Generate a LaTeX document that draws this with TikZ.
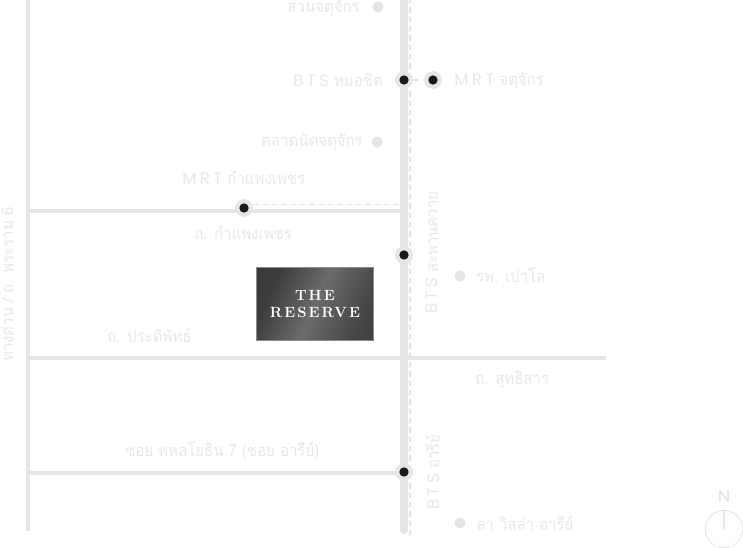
\documentclass[tikz,border=0pt]{standalone}
\usepackage{fontspec}
\setmainfont{Liberation Sans}
\newfontfamily\thaifont[Script=Thai,FakeStretch=0.9]{Loma}
\newfontfamily\latinsp[LetterSpace=20]{Poppins}
\newfontfamily\logofont[LetterSpace=14]{Latin Modern Roman}
\newfontfamily\northfont[FakeBold=2,FakeStretch=1.15]{Poppins}
\definecolor{roadgrey}{HTML}{E6E6E6}
\definecolor{labelgrey}{HTML}{E8E8E8}
\definecolor{stationblack}{HTML}{1A1A1A}
\pgfdeclarehorizontalshading{logoshade}{100bp}{color(0bp)=(black!80); color(28bp)=(black!76); color(50bp)=(black!58); color(72bp)=(black!72); color(100bp)=(black!80)}
\tikzset{
  mainroad/.style={draw=roadgrey,line width=6pt,line cap=round},
  road/.style={draw=roadgrey,line width=2.4pt},
  rail/.style={draw=roadgrey,line width=0.9pt,dash pattern=on 4pt off 3pt},
  halo/.style={circle,fill=roadgrey,draw=none,minimum size=13.4pt,inner sep=0pt},
  hub/.style={circle,fill=stationblack,draw=none,minimum size=7pt,inner sep=0pt},
  poi/.style={circle,fill=roadgrey,draw=none,minimum size=8.4pt,inner sep=0pt},
  lab/.style={text=labelgrey,font=\thaifont\fontsize{12.5}{14}\selectfont,inner sep=0pt},
  compassring/.style={draw=roadgrey,line width=0.7pt},
}
\begin{document}
\begin{tikzpicture}[x=0.75pt,y=-0.75pt]
\useasboundingbox (0,0) rectangle (743,548);
\coordinate (mt) at (404,-4);
\coordinate (mb) at (404,530);
\coordinate (rt) at (410,-2);
\coordinate (rb) at (410,537);
\coordinate (lt) at (28,-2);
\coordinate (lb) at (28,531);
\coordinate (k1) at (28,211);
\coordinate (k2) at (402,211);
\coordinate (p1) at (28,358);
\coordinate (p2) at (606,358);
\coordinate (s1) at (28,473);
\coordinate (s2) at (402,473);
\coordinate (d2) at (400,204.5);
\coordinate (d1) at (244,204.5);
% roads
\draw[road] (lt) -- (lb);
\draw[road] (k1) -- (k2);
\draw[road] (p1) -- (p2);
\draw[road] (s1) -- (s2);
\draw[rail] (rt) -- (rb);
\draw[rail] (d1) -- (d2);
\draw[mainroad] (mt) -- (mb);
% stations
\node[halo] (hmochit) at (404,80) {};
\node[halo] (jatu) at (433,80) {};
\node[halo] (kamphaeng) at (244,208) {};
\node[halo] (saphan) at (404,255) {};
\node[halo] (ari) at (404,472) {};
\draw[rail] (hmochit) -- (jatu);
\node[hub] at (hmochit) {};
\node[hub] at (jatu) {};
\node[hub] at (kamphaeng) {};
\node[hub] at (saphan) {};
\node[hub] at (ari) {};
% poi
\node[poi] (park) at (378,7) {};
\node[poi] (market) at (377,142) {};
\node[poi] (paolo) at (460,276) {};
\node[poi] (villa) at (460,523) {};
% labels
\node[lab,anchor=east] (lpark) at (360,8) {สวนจตุจักร};
\node[lab,anchor=east] (lhmo) at (383,80) {{\latinsp BTS} หมอชิต};
\node[lab,anchor=west] (ljatu) at (454,81) {{\latinsp MRT} จตุจักร};
\node[lab,anchor=east] (lmarket) at (363,142.5) {ตลาดนัดจตุจักร};
\node[lab,anchor=west] (lmrtk) at (182,178) {{\latinsp MRT} กำแพงเพชร};
\node[lab,anchor=west] (lroadk) at (194,233) {ถ. กำแพงเพชร};
\node[lab,anchor=west] (lpaolo) at (476,275.5) {รพ. เปาโล};
\node[lab,anchor=west] (lprad) at (107,335.5) {ถ. ประดิพัทธ์};
\node[lab,anchor=west] (lsut) at (475,380) {ถ. สุทธิสาร};
\node[lab,anchor=west] (lsoi) at (125,451) {ซอย พหลโยธิน 7 (ซอย อารีย์)};
\node[lab,anchor=west] (lvilla) at (476,523.5) {ลา วิลล่า อารีย์};
\node[lab,anchor=west,rotate=90] (lsap) at (432,314) {{\latinsp BTS} สะพานควาย};
\node[lab,anchor=west,rotate=90] (lari) at (432,510) {{\latinsp BTS} อารีย์};
\node[lab,anchor=west,rotate=90] (lexp) at (7,362) {ทางด่วน / ถ. พระราม 6};
% logo
\node[minimum width=88pt,minimum height=55pt,inner sep=0pt,draw=black!45,line width=0.4pt,anchor=north west,
  shade,shading=logoshade,shading angle=-24] (reserve) at (256,267) {};
\node[text=white,align=center,font=\logofont\fontsize{11.1}{12.8}\selectfont\bfseries,inner sep=0pt] (logotext) at (reserve.center) {THE\\RESERVE};
% compass
\node[circle,compassring,minimum size=28pt,inner sep=0pt] (ring) at (724,529) {};
\draw[draw=roadgrey,line width=1pt] (ring.north) -- (ring.center);
\node[text=labelgrey,font=\northfont\fontsize{12}{13}\selectfont,inner sep=0pt] (north) at (724,496) {N};
\end{tikzpicture}
\end{document}
